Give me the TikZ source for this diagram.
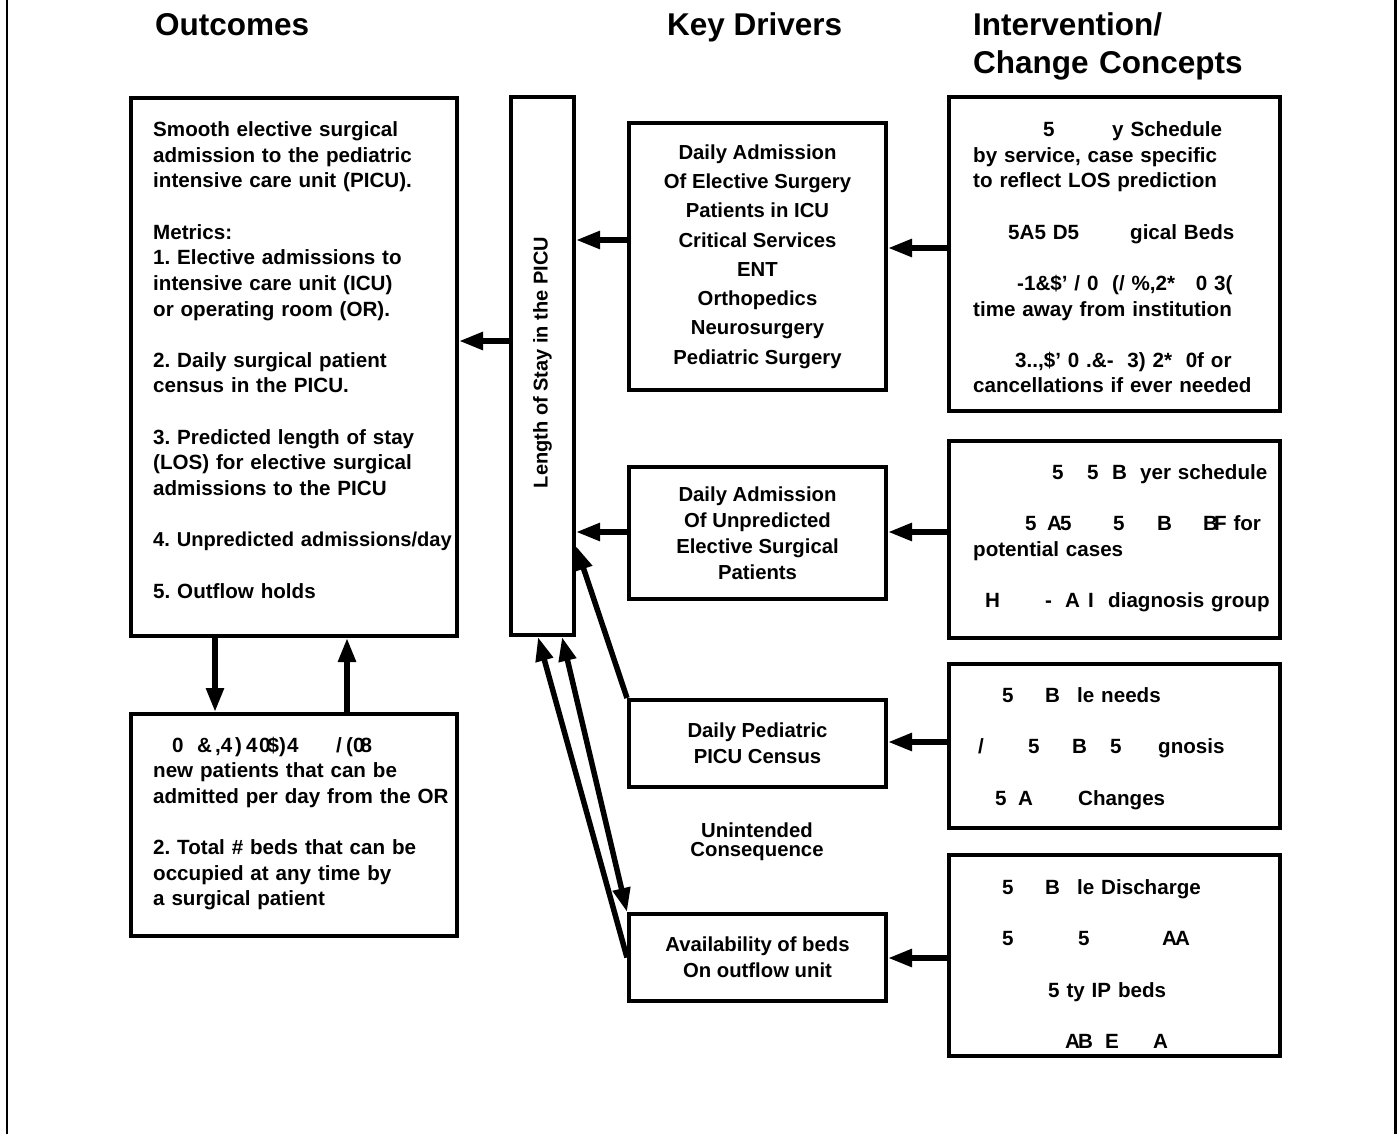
\documentclass[tikz,border=0pt]{standalone}
\usepackage{fontspec}
\setmainfont{Liberation Sans}
\usetikzlibrary{arrows.meta}
\frenchspacing
\newcommand\gpiece[2]{\makebox[0pt][l]{\hspace*{#1pt}#2}}
\newcommand\blankln{\\[\baselineskip]}
\tikzset{
  box/.style={draw, line width=4pt, inner sep=0pt},
  kbox/.style={box, align=center, font=\fontsize{20.3}{26}\selectfont\bfseries},
  txt/.style={anchor=base west, inner sep=0pt, text width=330pt, align=left,
              font=\fontsize{20.6}{25.65}\selectfont\bfseries\frenchspacing},
  hdr/.style={anchor=base west, inner sep=0pt, font=\fontsize{31.5}{38}\selectfont\bfseries},
  arr/.style={line width=5.5pt, -{Triangle[length=24pt,width=17pt]}},
  darr/.style={line width=5.5pt, {Triangle[length=24pt,width=17pt]}-{Triangle[length=24pt,width=17pt]}},
  frame/.style={line width=2.2pt}
}
\begin{document}
\begin{tikzpicture}[x=1pt,y=-1pt]
\useasboundingbox (0,0) rectangle (1397,1134);
\fill[white] (0,0) rectangle (1397,1134);
% side frame lines
\draw[frame] (7,0) -- (7,1134);
\draw[frame] (1395.5,0) -- (1395.5,1134);

% headers
\node[hdr] (hO) at (155,35.5) {Outcomes};
\node[hdr] (hK) at (667,35.5) {Key Drivers};
\node[hdr, text width=320pt, align=left] (hI) at (973,35.5) {Intervention/\\Change Concepts};

% boxes
\node[box, minimum width=326pt, minimum height=538pt] (O1) at (294,367) {};
\node[box, minimum width=326pt, minimum height=222pt] (O2) at (294,825) {};
\node[box, minimum width=63pt, minimum height=538pt] (LOS) at (542.5,366) {};
\node[rotate=90, inner sep=0pt, font=\fontsize{20}{24}\selectfont\bfseries] (LOSt) at (542.5,362.5) {Length of Stay in the PICU};

\node[kbox, minimum width=257pt, minimum height=267pt, font=\fontsize{20.3}{29.3}\selectfont\bfseries] (K1) at (757.5,256.5)
  {Daily Admission\\Of Elective Surgery\\Patients in ICU\\Critical Services\\ENT\\Orthopedics\\Neurosurgery\\Pediatric Surgery};
\node[kbox, minimum width=257pt, minimum height=132pt, font=\fontsize{20.3}{25.9}\selectfont\bfseries] (K2) at (757.5,533)
  {Daily Admission\\Of Unpredicted\\Elective Surgical\\Patients};
\node[kbox, minimum width=257pt, minimum height=87pt] (K3) at (757.5,743.5) {Daily Pediatric\\PICU Census};
\node[kbox, minimum width=257pt, minimum height=87pt] (K4) at (757.5,957.5) {Availability of beds\\On outflow unit};

\node[align=center, inner sep=0pt, font=\fontsize{20.3}{19}\selectfont\bfseries] (UC) at (757,842) {Unintended\\Consequence};

\node[box, minimum width=331pt, minimum height=314pt] (I1) at (1114.5,254) {};
\node[box, minimum width=331pt, minimum height=197pt] (I2) at (1114.5,539.5) {};
\node[box, minimum width=331pt, minimum height=164pt] (I3) at (1114.5,746) {};
\node[box, minimum width=331pt, minimum height=201pt] (I4) at (1114.5,955.5) {};

% box texts
\node[txt] (O1t) at (153,136.5) {Smooth elective surgical\\
admission to the pediatric\\
intensive care unit (PICU).\blankln
Metrics:\\
1. Elective admissions to\\
intensive care unit (ICU)\\
or operating room (OR).\blankln
2. Daily surgical patient\\
census in the PICU.\blankln
3. Predicted length of stay\\
(LOS) for elective surgical\\
admissions to the PICU\blankln
{\fontsize{20.1}{25.65}\selectfont 4. Unpredicted admissions/day}\blankln
5. Outflow holds};

\node[txt] (O2t) at (153,752) {\gpiece{19}{0}\gpiece{44}{\&}\gpiece{62}{,4}\gpiece{82}{)}\gpiece{93}{4}\gpiece{106}{0\kern-3pt\$)}\gpiece{134}{4}\gpiece{183}{/}\gpiece{193}{(0\kern-4pt 8}\\
new patients that can be\\
admitted per day from the OR\blankln
2. Total \# beds that can be\\
occupied at any time by\\
a surgical patient};

\node[txt] (I1t) at (973,136.5) {\gpiece{70}{5}\gpiece{139}{y Schedule}\\
by service, case specific\\
to reflect LOS prediction\blankln
\gpiece{35}{5A5 D5}\gpiece{157}{gical Beds}\blankln
\gpiece{44}{-1\&\$' / 0 \ (/ \%,2* \ \ 0 3(}\\
time away from institution\blankln
\gpiece{42}{3..,\$' 0 .\&- \ 3) 2* \ 0f or}\\
cancellations if ever needed};

\node[txt] (I2t) at (973,479.5) {\gpiece{79}{5}\gpiece{114}{5}\gpiece{139}{B}\gpiece{167}{yer schedule}\blankln
\gpiece{52}{5}\gpiece{74}{A\kern-2pt 5}\gpiece{140}{5}\gpiece{184}{B}\gpiece{230}{B\kern-4pt F for}\\
potential cases\blankln
\gpiece{12}{H}\gpiece{72}{-}\gpiece{92}{A}\gpiece{115}{I}\gpiece{135}{diagnosis group}};

\node[txt] (I3t) at (973,702.5) {\gpiece{29}{5}\gpiece{72}{B}\gpiece{104}{le needs}\blankln
\gpiece{5}{/}\gpiece{55}{5}\gpiece{99}{B}\gpiece{137}{5}\gpiece{185}{gnosis}\blankln
\gpiece{22}{5}\gpiece{45}{A}\gpiece{105}{Changes}};

\node[txt] (I4t) at (973,894.5) {\gpiece{29}{5}\gpiece{72}{B}\gpiece{104}{le Discharge}\blankln
\gpiece{29}{5}\gpiece{105}{5}\gpiece{189}{A\kern-2pt A}\blankln
\gpiece{75}{5 ty IP beds}\blankln
\gpiece{92}{A\kern-2pt B}\gpiece{132}{E}\gpiece{180}{A}};

% arrow levels
\coordinate (hA) at (0,248);
\coordinate (hB) at (0,240);
\coordinate (hC) at (0,341);
\coordinate (hD) at (0,532);
\coordinate (hE) at (0,742);
\coordinate (hF) at (0,958);
\coordinate (hG) at (0,546);
\coordinate (vD) at (215,0);
\coordinate (vU) at (347,0);
\coordinate (vA) at (538,0);
\coordinate (vB) at (562,0);

% connectors
\draw[arr] (I1.west |- hA) -- (K1.east |- hA);
\draw[arr] (K1.west |- hB) -- (LOS.east |- hB);
\draw[arr] (LOS.west |- hC) -- (O1.east |- hC);
\draw[arr] (I2.west |- hD) -- (K2.east |- hD);
\draw[arr] (K2.west |- hD) -- (LOS.east |- hD);
\draw[arr] (I3.west |- hE) -- (K3.east |- hE);
\draw[arr] (I4.west |- hF) -- (K4.east |- hF);
\draw[arr] (K3.north west) -- (LOS.east |- hG);
\draw[arr] (K4.west) -- (LOS.south -| vA);
\draw[darr] (LOS.south -| vB) -- (K4.north west);
\draw[arr] (O1.south -| vD) -- (O2.north -| vD);
\draw[arr] (O2.north -| vU) -- (O1.south -| vU);
\end{tikzpicture}
\end{document}
